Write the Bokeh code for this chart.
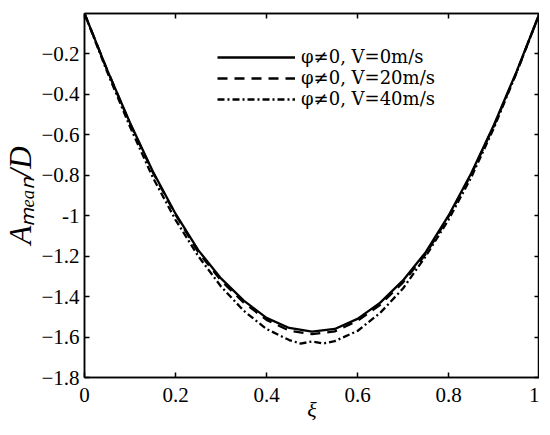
from bokeh.plotting import figure
from bokeh.models import LinearAxis, FixedTicker, Legend, LegendItem, Range1d
from bokeh.embed import file_html
from bokeh.resources import INLINE

# --- data ---
xi = [0.0, 0.05, 0.10, 0.15, 0.20, 0.25, 0.30, 0.35, 0.40, 0.45, 0.50,
      0.55, 0.60, 0.65, 0.70, 0.75, 0.80, 0.85, 0.90, 0.95, 1.0]
a_v0 = [0.0, -0.28, -0.54, -0.78, -0.99, -1.17, -1.31, -1.42, -1.505, -1.555, -1.573,
        -1.56, -1.51, -1.43, -1.32, -1.18, -1.00, -0.79, -0.55, -0.285, 0.0]
a_v20 = [0.0, -0.28, -0.545, -0.785, -0.995, -1.18, -1.32, -1.43, -1.515, -1.568, -1.586,
         -1.572, -1.52, -1.44, -1.33, -1.19, -1.005, -0.795, -0.555, -0.29, 0.0]
xi_v40 = [0.0, 0.05, 0.10, 0.15, 0.20, 0.25, 0.30, 0.35, 0.40, 0.45, 0.475, 0.50,
          0.525, 0.55, 0.60, 0.65, 0.70, 0.75, 0.80, 0.85, 0.90, 0.95, 1.0]
a_v40 = [0.0, -0.29, -0.56, -0.81, -1.02, -1.20, -1.35, -1.47, -1.56, -1.615, -1.632, -1.622,
         -1.632, -1.62, -1.57, -1.48, -1.36, -1.20, -1.02, -0.81, -0.565, -0.29, 0.0]

x_ticks = [0, 0.2, 0.4, 0.6, 0.8, 1.0]
y_ticks = [-1.8, -1.6, -1.4, -1.2, -1.0, -0.8, -0.6, -0.4, -0.2]
legend_labels = ["φ≠0, V=0m/s", "φ≠0, V=20m/s", "φ≠0, V=40m/s"]
x_label = "ξ"
y_label = "Aₘₑₐₙ/D"

FONT = "Liberation Serif"
LEGEND_FONT = "DejaVu Serif"

p = figure(frame_width=455, frame_height=364, x_range=Range1d(0, 1), y_range=Range1d(-1.8, 0),
           output_backend="svg", toolbar_location=None,
           min_border_left=72, min_border_right=0, min_border_top=13, min_border_bottom=30)
p.background_fill_color = "white"
p.border_fill_color = "white"
p.xgrid.grid_line_color = None
p.ygrid.grid_line_color = None
p.outline_line_color = "black"
p.outline_line_width = 1.5

r0 = p.line(xi, a_v0, line_color="black", line_width=2.3)
r20 = p.line(xi, a_v20, line_color="black", line_width=2.3, line_dash="10 7")
r40 = p.line(xi_v40, a_v40, line_color="black", line_width=2.3, line_dash="7 3 2 3")

def style_axis(ax, show_labels=True):
    ax.axis_line_color = "black"
    ax.axis_line_width = 1.5
    ax.major_tick_line_color = "black"
    ax.major_tick_line_width = 1.5
    ax.major_tick_in = 5
    ax.major_tick_out = 0
    ax.minor_tick_line_color = None
    if show_labels:
        ax.major_label_text_font = FONT
        ax.major_label_text_font_size = "21px"
        ax.major_label_text_color = "black"
    else:
        ax.major_label_overrides = {t: "" for t in ax.ticker.ticks}
        ax.major_label_standoff = 0

xa = p.xaxis[0]
ya = p.yaxis[0]
xa.ticker = FixedTicker(ticks=x_ticks)
ya.ticker = FixedTicker(ticks=y_ticks)
style_axis(xa)
style_axis(ya)
xa.major_label_overrides = {0: "0", 1: "1"}
ya.major_label_overrides = {-1: "-1"}
xa.major_label_standoff = 10
ya.major_label_standoff = 5
xa.axis_label = x_label
ya.axis_label = y_label
for ax in (xa, ya):
    ax.axis_label_text_font = FONT
    ax.axis_label_text_font_style = "italic"
    ax.axis_label_text_color = "black"
xa.axis_label_text_font_size = "22px"
ya.axis_label_text_font_size = "31px"
xa.axis_label_standoff = -8
ya.axis_label_standoff = 0

top = LinearAxis(ticker=FixedTicker(ticks=x_ticks))
right = LinearAxis(ticker=FixedTicker(ticks=y_ticks))
style_axis(top, False)
style_axis(right, False)
p.add_layout(top, "above")
p.add_layout(right, "right")

legend = Legend(items=[LegendItem(label=legend_labels[0], renderers=[r0]),
                       LegendItem(label=legend_labels[1], renderers=[r20]),
                       LegendItem(label=legend_labels[2], renderers=[r40])],
                location=(133, 268))
legend.border_line_color = None
legend.background_fill_alpha = 0
legend.padding = 0
legend.margin = 0
legend.spacing = 0
legend.label_height = 20
legend.glyph_height = 20
legend.glyph_width = 78
legend.label_standoff = 6
legend.label_text_font = LEGEND_FONT
legend.label_text_font_size = "18px"
legend.label_text_color = "black"
p.add_layout(legend, "center")

open("out.html", "w").write(file_html(p, INLINE))
